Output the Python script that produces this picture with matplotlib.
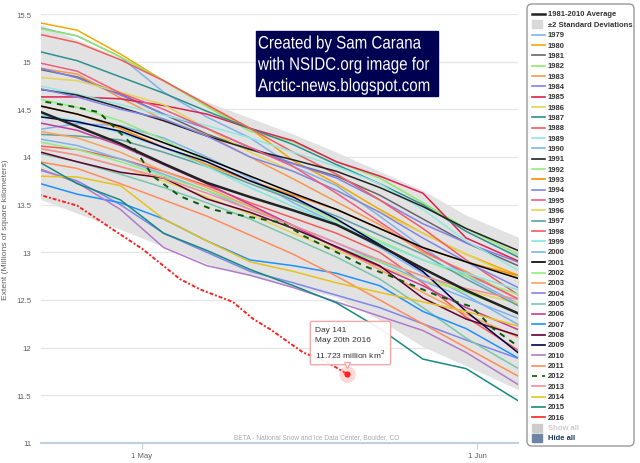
import numpy as np
import matplotlib
matplotlib.use('Agg')
import matplotlib.pyplot as plt
from matplotlib.patches import Rectangle, FancyBboxPatch, PathPatch
from matplotlib.textpath import TextPath
from matplotlib.font_manager import FontProperties
from matplotlib.transforms import Affine2D

plt.rcParams['font.family'] = ['Liberation Sans', 'DejaVu Sans']

# day of year (2016 numbering) on which most series are sampled
days = [112, 116, 120, 124, 128, 132, 136, 140, 144, 148, 152, 157]

# 1981-2010 average and standard deviation (millions of km^2)
avg = [14.50, 14.32, 14.14, 13.93, 13.73, 13.58, 13.44, 13.29, 13.07, 12.83, 12.60, 12.35]
std = [0.46, 0.455, 0.45, 0.435, 0.425, 0.415, 0.40, 0.38, 0.39, 0.41, 0.395, 0.40]

# yearly extents on the same days
extent = {
    1979: [15.37, 15.27, 15.05, 14.68, 14.42, 14.20, 13.90, 13.70, 13.38, 13.05, 12.75, 12.45],
    1980: [15.42, 15.33, 15.08, 14.80, 14.54, 14.30, 13.96, 13.72, 13.45, 13.20, 12.98, 12.75],
    1981: [14.93, 14.84, 14.66, 14.45, 14.24, 14.08, 13.93, 13.80, 13.60, 13.35, 13.10, 12.85],
    1982: [15.36, 15.27, 15.05, 14.80, 14.53, 14.27, 14.16, 13.95, 13.78, 13.52, 13.25, 12.97],
    1983: [14.94, 14.87, 14.62, 14.39, 14.23, 14.00, 13.77, 13.53, 13.29, 13.00, 12.80, 12.50],
    1984: [14.95, 14.83, 14.65, 14.45, 14.30, 14.10, 13.93, 13.78, 13.55, 13.30, 13.10, 12.89],
    1985: [14.63, 14.63, 14.61, 14.54, 14.45, 14.30, 14.17, 13.95, 13.80, 13.62, 13.15, 12.90],
    1986: [14.84, 14.80, 14.68, 14.55, 14.30, 14.05, 13.85, 13.65, 13.42, 13.20, 12.98, 12.72],
    1987: [15.12, 15.01, 14.84, 14.67, 14.48, 14.30, 14.13, 13.92, 13.72, 13.50, 13.22, 12.94],
    1988: [15.30, 15.20, 15.02, 14.80, 14.55, 14.30, 14.05, 13.82, 13.55, 13.25, 12.92, 12.54],
    1989: [14.76, 14.66, 14.55, 14.44, 14.33, 14.20, 14.05, 13.90, 13.72, 13.45, 13.12, 12.80],
    1990: [14.28, 14.35, 14.33, 14.20, 14.00, 13.78, 13.52, 13.30, 13.05, 12.78, 12.55, 12.23],
    1991: [14.72, 14.65, 14.52, 14.38, 14.22, 14.08, 13.97, 13.85, 13.68, 13.48, 13.25, 13.01],
    1992: [14.62, 14.52, 14.38, 14.18, 13.95, 13.75, 13.55, 13.33, 13.12, 12.92, 12.75, 12.55],
    1993: [14.55, 14.45, 14.30, 14.10, 13.92, 13.75, 13.60, 13.45, 13.25, 13.05, 12.90, 12.75],
    1994: [14.73, 14.63, 14.50, 14.40, 14.22, 14.00, 13.85, 13.65, 13.42, 13.15, 12.90, 12.62],
    1995: [15.00, 14.90, 14.67, 14.50, 14.30, 14.10, 13.90, 13.62, 13.32, 13.02, 12.78, 12.50],
    1996: [14.10, 14.02, 13.90, 13.75, 13.58, 13.40, 13.20, 13.02, 12.85, 12.70, 12.60, 12.46],
    1997: [14.24, 14.22, 14.18, 14.05, 13.90, 13.72, 13.55, 13.38, 13.18, 12.98, 12.72, 12.43],
    1998: [14.12, 14.08, 13.98, 13.85, 13.70, 13.52, 13.36, 13.20, 13.00, 12.68, 12.32, 11.96],
    1999: [14.45, 14.38, 14.25, 14.10, 13.90, 13.68, 13.48, 13.30, 13.10, 12.92, 12.78, 12.60],
    2000: [14.20, 14.12, 13.98, 13.82, 13.65, 13.45, 13.28, 13.10, 12.90, 12.70, 12.52, 12.30],
    2001: [14.55, 14.45, 14.32, 14.15, 13.98, 13.80, 13.62, 13.45, 13.25, 13.05, 12.90, 12.72],
    2002: [14.17, 14.08, 13.95, 13.80, 13.65, 13.48, 13.25, 13.05, 12.90, 12.75, 12.58, 12.36],
    2003: [14.28, 14.20, 14.05, 13.85, 13.68, 13.48, 13.28, 13.05, 12.82, 12.58, 12.35, 12.10],
    2004: [13.88, 13.75, 13.50, 13.20, 13.00, 12.80, 12.68, 12.55, 12.42, 12.25, 12.08, 11.88],
    2005: [14.05, 13.95, 13.82, 13.68, 13.52, 13.35, 13.15, 12.95, 12.72, 12.42, 12.10, 11.77],
    2006: [14.37, 14.28, 14.12, 13.92, 13.72, 13.50, 13.28, 13.05, 12.85, 12.65, 12.42, 12.18],
    2007: [13.74, 13.61, 13.52, 13.35, 13.12, 12.92, 12.86, 12.78, 12.65, 12.38, 12.20, 11.88],
    2008: [14.07, 13.95, 13.84, 13.78, 13.56, 13.42, 13.25, 13.06, 12.86, 12.52, 12.30, 12.12],
    2009: [14.43, 14.37, 14.27, 14.10, 13.95, 13.75, 13.58, 13.35, 13.08, 12.80, 12.38, 11.93],
    2010: [13.90, 13.73, 13.45, 13.05, 12.86, 12.76, 12.63, 12.48, 12.33, 12.18, 11.95, 11.60],
    2011: [13.96, 13.88, 13.72, 13.55, 13.38, 13.18, 12.98, 12.75, 12.50, 12.25, 12.00, 11.69],
    2013: [14.10, 14.02, 13.90, 13.78, 13.62, 13.45, 13.28, 13.10, 12.92, 12.75, 12.62, 12.50],
    2014: [13.80, 13.79, 13.70, 13.35, 13.12, 12.90, 12.80, 12.68, 12.58, 12.48, 12.38, 12.22],
    2015: [13.98, 13.72, 13.55, 13.20, 13.02, 12.82, 12.65, 12.47, 12.20, 11.88, 11.78, 11.43],
}

days_2012 = [112, 116, 118, 121, 123, 125.5, 128.5, 131.5, 135, 137, 139.5, 142.5, 145, 149.5, 152.5, 154.5, 157]
ext_2012 = [14.60, 14.52, 14.47, 14.14, 13.80, 13.59, 13.45, 13.38, 13.31, 13.17, 13.03, 12.86, 12.75, 12.54, 12.43, 12.20, 12.00]
days_2016 = [112, 116, 119.3, 122.1, 125.5, 127.4, 130.4, 132.3, 133.9, 136.9, 139.1, 141]
ext_2016 = [13.62, 13.49, 13.24, 13.03, 12.72, 12.61, 12.48, 12.30, 12.19, 11.95, 11.85, 11.723]

colors = {
    1979: '#7fb2ec', 1980: '#f5a800', 1981: '#666666', 1982: '#8ee86a', 1983: '#f7984a',
    1984: '#8080e8', 1985: '#e0204f', 1986: '#e4d354', 1987: '#2b908f', 1988: '#f45b5b',
    1989: '#91e8e1', 1990: '#7cb5ec', 1991: '#222222', 1992: '#90ed7d', 1993: '#ff8c00',
    1994: '#8085e9', 1995: '#f15c80', 1996: '#e4d354', 1997: '#5f9f9f', 1998: '#f45b5b',
    1999: '#80e8dc', 2000: '#7cb5ec', 2001: '#000000', 2002: '#90ed7d', 2003: '#f7a35c',
    2004: '#8085e9', 2005: '#78c8a8', 2006: '#c8399a', 2007: '#1e90ff', 2008: '#600030',
    2009: '#000050', 2010: '#b27ac8', 2011: '#ff8c5a', 2012: '#0b5a0b', 2013: '#f48c9c',
    2014: '#e6c21a', 2015: '#168a80', 2016: '#ff2020',
}

tick_days = [122, 153]
tick_names = ['1 May', '1 Jun']

fig = plt.figure(figsize=(6.4, 4.64), dpi=100)
ax = fig.add_axes([41/640, 20/464, 477/640, 429/464])

avg = np.array(avg)
std = np.array(std)
ax.fill_between(days, avg - 2*std, avg + 2*std, color='#e2e2e2', lw=0, zorder=1)

for year in range(1979, 2017):
    if year == 2012:
        ax.plot(days_2012, ext_2012, color=colors[year], lw=1.4, ls=(0, (3, 3)), zorder=3)
    elif year == 2016:
        ax.plot(days_2016, ext_2016, color=colors[year], lw=1.4, ls=(0, (2, 1, 1, 1)), zorder=4)
    else:
        ax.plot(days, extent[year], color=colors[year], lw=1.1, zorder=2)

ax.plot(days, avg, color='#222222', lw=1.8, zorder=3)

# highlighted point + tooltip
ax.plot(days_2016[-1], ext_2016[-1], 'o', ms=12, color='#ff8080', alpha=0.3, mec='none', zorder=5)
ax.plot(days_2016[-1], ext_2016[-1], 'o', ms=4.5, color='#ff2020', mec='none', zorder=6)
ax.annotate('Day 141\nMay 20th 2016\n11.723 million km$^2$', xy=(days_2016[-1], ext_2016[-1]),
            xytext=(-32, 31), textcoords='offset pixels', ha='left', va='center',
            fontsize=6, color='#333333', linespacing=1.45, zorder=7,
            bbox=dict(boxstyle='round,pad=0.6,rounding_size=0.2', fc='white', ec='#f2a0a0', lw=1, alpha=0.92))
# little callout pointer under the tooltip
ax.plot(days_2016[-1], ext_2016[-1], marker='v', ms=5, mfc='white', mec='#f2a0a0', mew=0.8,
        ls='none', zorder=8, transform=ax.transData + Affine2D().translate(0, 9))

ax.text(0.578, 0.016, 'BETA - National Snow and Ice Data Center, Boulder, CO', transform=ax.transAxes,
        ha='center', va='center', fontsize=4.8, color='#aaaaaa')

ax.set_xlim(112.65, 156.8)
ax.set_ylim(11, 15.5)
ax.set_yticks(np.arange(11, 15.51, 0.5))
ax.set_yticklabels(['11', '11.5', '12', '12.5', '13', '13.5', '14', '14.5', '15', '15.5'])
ax.set_xticks(tick_days)
ax.set_xticklabels(tick_names)
ax.tick_params(axis='y', length=0, pad=7, labelsize=5.6, labelcolor='#606060')
ax.tick_params(axis='x', length=4, color='#c0d0e0', pad=2.5, labelsize=5.6, labelcolor='#606060')
ax.yaxis.grid(True, color='#e6e6e6', lw=1)
ax.set_axisbelow(True)
for s in ['top', 'right', 'left']:
    ax.spines[s].set_visible(False)
ax.spines['bottom'].set_color('#c0d0e0')
ax.spines['bottom'].set_linewidth(1.5)
ax.set_ylabel('Extent (Millions of square kilometers)', fontsize=6.1, color='#606060')
ax.yaxis.set_label_coords(-0.068, 0.5)

# overlay in pixel coordinates for the credit box and legend
ov = fig.add_axes([0, 0, 1, 1])
ov.set_xlim(0, 640)
ov.set_ylim(464, 0)
ov.axis('off')
ov.patch.set_visible(False)

ov.add_patch(Rectangle((256, 32), 182, 65, color='#000052', zorder=1))
credit = ['Created by Sam Carana', 'with NSIDC.org image for', 'Arctic-news.blogspot.com']
fp = FontProperties(family='Liberation Sans')
for i, line in enumerate(credit):
    # narrow lettering: squeeze a text path horizontally
    tp = TextPath((0, 0), line, size=18, prop=fp)
    tr = Affine2D().scale(0.84, -1).translate(258, 49.5 + i*21.3) + ov.transData
    ov.add_patch(PathPatch(tp, transform=tr, color='white', lw=0, zorder=2))

ov.add_patch(FancyBboxPatch((527, 5), 107, 442, boxstyle='round,pad=0,rounding_size=5',
                            fc='white', ec='#999999', lw=1))
labels = ['1981-2010 Average', '±2 Standard Deviations'] + [str(y) for y in range(1979, 2017)] + ['Show all', 'Hide all']
for i, lab in enumerate(labels):
    y = 15 + i*10.34
    tcol = '#333333'
    if lab == '1981-2010 Average':
        ov.plot([532, 545], [y, y], color='#222222', lw=1.8)
    elif lab.startswith('±'):
        ov.add_patch(Rectangle((532, y - 4), 10, 8, color='#d9d9d9'))
    elif lab == 'Show all':
        ov.add_patch(Rectangle((532, y - 4), 10, 8, color='#cccccc'))
        tcol = '#cccccc'
    elif lab == 'Hide all':
        ov.add_patch(Rectangle((532, y - 4), 10, 8, color='#6d84a3'))
        tcol = '#1c3660'
    else:
        yr = int(lab)
        ls = '-'
        if yr == 2012:
            ls = (0, (3, 3))
        ov.plot([532, 545], [y, y], color=colors[yr], lw=1.2, ls=ls)
    ov.text(548, y, lab, fontsize=5.5, fontweight='bold', color=tcol, va='center', ha='left')

plt.savefig('out.png', dpi=100)
